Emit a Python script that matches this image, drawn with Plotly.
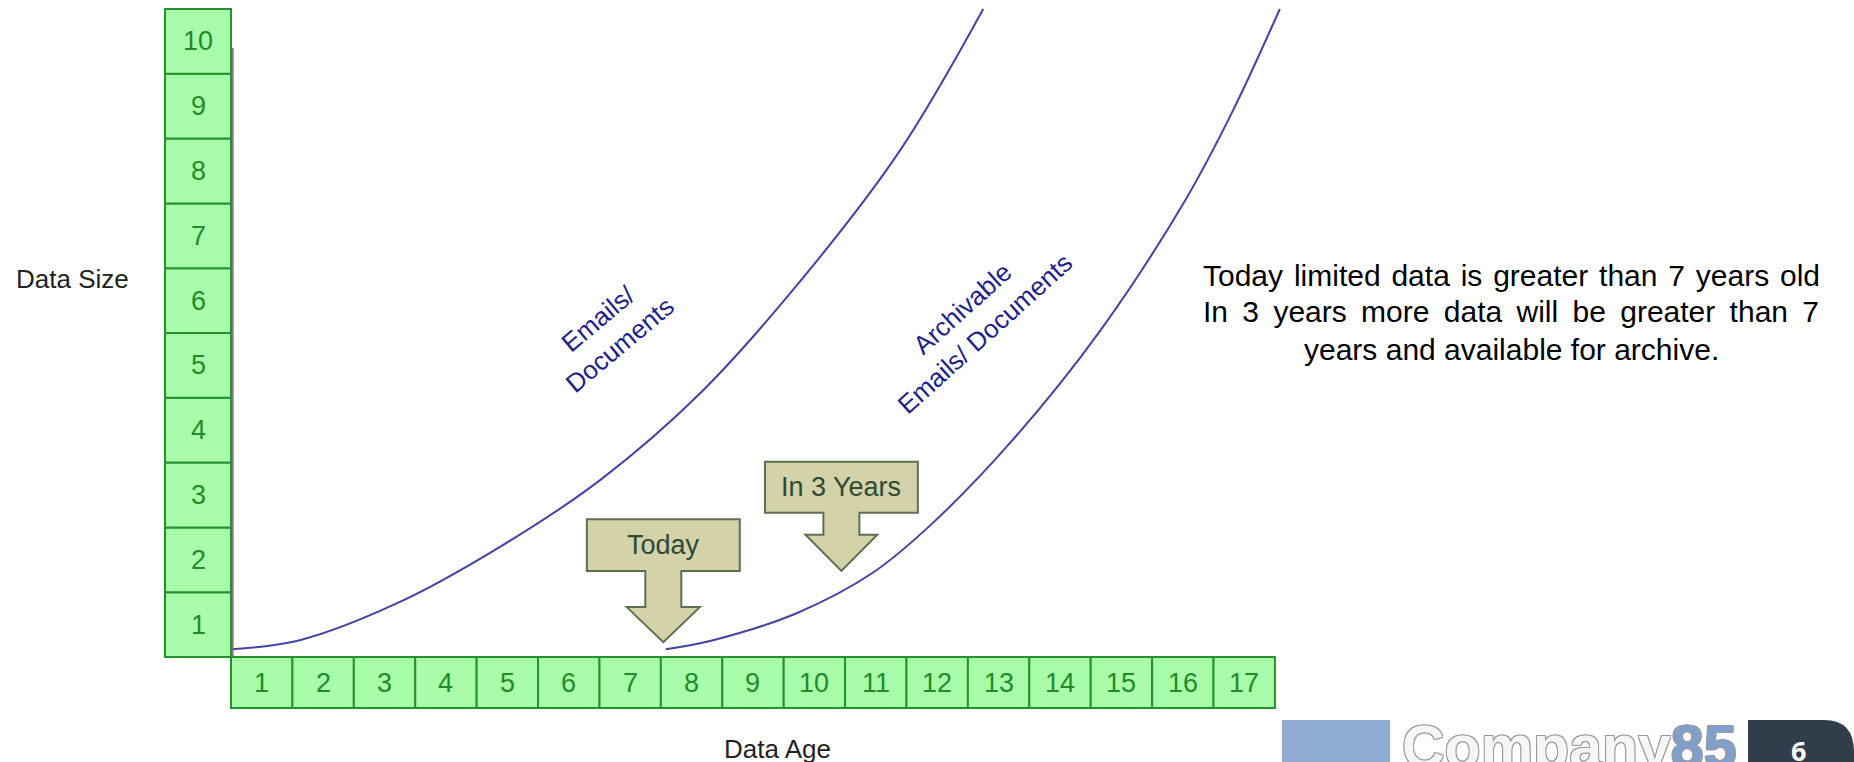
import plotly.graph_objects as go

# ---- data ----
data_age = list(range(1, 18))      # x-axis boxes
data_size = list(range(1, 11))     # y-axis boxes

emails_x = [0.52, 1.62, 3.25, 4.88, 6.51, 8.14, 9.77, 11.39, 12.75]
emails_y = [0.62, 0.76, 1.35, 2.20, 3.23, 4.57, 6.30, 8.31, 10.50]

archive_x = [7.58, 8.35, 9.72, 10.95, 11.93, 13.23, 14.65, 16.04, 16.82, 17.58]
archive_y = [0.62, 0.76, 1.18, 1.80, 2.57, 3.85, 5.53, 7.55, 8.94, 10.50]

marker_labels = ['Today', 'In 3 Years']
marker_x = [7.54, 10.44]
marker_tip_y = [0.73, 1.83]

# side note, one entry per line (thin spaces mimic the justified spacing)
note_lines = [
    'Today\u200a limited\u200a data\u200a is\u200a greater\u200a than\u200a 7\u200a years\u200a old',
    'In\u2009 3\u2009 years\u2009 more\u2009 data\u2009 will\u2009 be\u2009 greater\u2009 than\u2009 7',
    'years and available for archive.',
]

W, H = 1854, 762
FONT = 'Liberation Sans, Arial, sans-serif'
BOX_FILL = '#a9fca9'
BOX_LINE = '#24932e'
BOX_TEXT = '#1f8c28'
CURVE = '#4343a6'
LABEL = '#1f1f8c'
ARROW_FILL = '#d3d2a9'
ARROW_LINE = '#5c7050'
ARROW_TEXT = '#2f4a34'


def px(x):
    return x / W


def py(y):
    return 1 - y / H


def arrow_path(cx, tip, box_w, box_h, stem_w, stem_h, head_w, head_h):
    y_head = tip + head_h
    y_stem = y_head + stem_h
    y_top = y_stem + box_h
    pts = [(cx - box_w / 2, y_top), (cx + box_w / 2, y_top), (cx + box_w / 2, y_stem),
           (cx + stem_w / 2, y_stem), (cx + stem_w / 2, y_head), (cx + head_w / 2, y_head),
           (cx, tip), (cx - head_w / 2, y_head), (cx - stem_w / 2, y_head),
           (cx - stem_w / 2, y_stem), (cx - box_w / 2, y_stem)]
    path = 'M ' + ' L '.join(f'{a:.3f},{b:.3f}' for a, b in pts) + ' Z'
    return path, y_stem + box_h / 2


def note(x, y, text, size, color, **kw):
    return dict(x=x, y=y, xref='paper', yref='paper', text=text, showarrow=False,
                xanchor=kw.pop('xanchor', 'center'), yanchor=kw.pop('yanchor', 'middle'),
                font=dict(family=kw.pop('family', FONT), size=size, color=color, **kw))


fig = go.Figure()

fig.add_trace(go.Scatter(x=emails_x, y=emails_y, mode='lines',
                         line=dict(color=CURVE, width=2, shape='spline', smoothing=1.0),
                         hoverinfo='skip', showlegend=False))
fig.add_trace(go.Scatter(x=archive_x, y=archive_y, mode='lines',
                         line=dict(color=CURVE, width=2, shape='spline', smoothing=1.0),
                         hoverinfo='skip', showlegend=False))

shapes = []
annotations = []

# x-axis boxes
for a in data_age:
    shapes.append(dict(type='rect', xref='x', yref='y', x0=a - 0.5, x1=a + 0.5, y0=-0.287, y1=0.5,
                       fillcolor=BOX_FILL, line=dict(color=BOX_LINE, width=2), layer='below'))
    annotations.append(dict(x=a, y=0.106, xref='x', yref='y', text=str(a), showarrow=False,
                            font=dict(family=FONT, size=27, color=BOX_TEXT)))

# y-axis boxes
for s in data_size:
    shapes.append(dict(type='rect', xref='x', yref='y', x0=-0.575, x1=0.5, y0=s - 0.5, y1=s + 0.5,
                       fillcolor=BOX_FILL, line=dict(color=BOX_LINE, width=2), layer='below'))
    annotations.append(dict(x=-0.037, y=s, xref='x', yref='y', text=str(s), showarrow=False,
                            font=dict(family=FONT, size=27, color=BOX_TEXT)))

# thin axis line along the size column
shapes.append(dict(type='line', xref='x', yref='y', x0=0.53, x1=0.53, y0=0.5, y1=9.9,
                   line=dict(color='#707070', width=1.5)))

# Today / In 3 Years arrows
dims = [(2.49, 0.80, 0.586, 0.556, 1.19, 0.54), (2.49, 0.787, 0.586, 0.34, 1.17, 0.556)]
for lab, cx, tip, d in zip(marker_labels, marker_x, marker_tip_y, dims):
    path, ty = arrow_path(cx, tip, *d)
    shapes.append(dict(type='path', xref='x', yref='y', path=path, fillcolor=ARROW_FILL,
                       line=dict(color=ARROW_LINE, width=2)))
    annotations.append(dict(x=cx, y=ty, xref='x', yref='y', text=lab, showarrow=False,
                            font=dict(family=FONT, size=27, color=ARROW_TEXT)))

# curve labels
annotations.append(dict(x=6.65, y=5.52, xref='x', yref='y', text='Emails/<br>Documents',
                        showarrow=False, textangle=-40, align='center',
                        font=dict(family=FONT, size=26, color=LABEL)))
annotations.append(dict(x=12.6, y=5.68, xref='x', yref='y', text='Archivable<br>Emails/ Documents',
                        showarrow=False, textangle=-42, align='center',
                        font=dict(family=FONT, size=26, color=LABEL)))

# axis titles
annotations.append(note(px(72), py(279), 'Data Size', 26, '#222222'))
annotations.append(note(px(777), py(749), 'Data Age', 26, '#222222'))

# side note, 37 px between lines
for i, line in enumerate(note_lines):
    annotations.append(note(px(1511), py(275 + 37 * i), line, 30, '#000000'))

# footer logo
shapes.append(dict(type='rect', xref='paper', yref='paper', x0=px(1282), x1=px(1390),
                   y0=0, y1=py(720), fillcolor='#8eabd1', line=dict(width=0)))
shapes.append(dict(type='path', xref='paper', yref='paper',
                   path=(f'M {px(1748)},0 L {px(1748)},{py(720)} L {px(1824)},{py(720)} '
                         f'Q {px(1854)},{py(720)} {px(1854)},{py(752)} L {px(1854)},0 Z'),
                   fillcolor='#323d4b', line=dict(width=0)))
outline = '-1px -1px 0 #9a9a9a, 1px -1px 0 #9a9a9a, -1px 1px 0 #9a9a9a, 1px 1px 0 #9a9a9a'
annotations.append(note(px(1400), py(712), "Company<span style='color:#7f9fcc'>85</span>",
                        59, '#f6f6f6', xanchor='left', yanchor='top', weight='bold',
                        shadow=outline))
annotations.append(note(px(1798), py(750), '6', 27, '#ffffff',
                        family='Open Sans, Liberation Sans', weight='bold'))

fig.update_layout(
    width=W, height=H,
    margin=dict(l=0, r=0, t=0, b=0),
    paper_bgcolor='white', plot_bgcolor='white',
    xaxis=dict(range=[-3.262, 26.93], visible=False, fixedrange=True),
    yaxis=dict(range=[-1.120, 10.639], visible=False, fixedrange=True),
    shapes=shapes, annotations=annotations,
    showlegend=False,
)

fig.write_html("out.html", config={'displayModeBar': False},
               post_script="document.body.style.margin='0';")
